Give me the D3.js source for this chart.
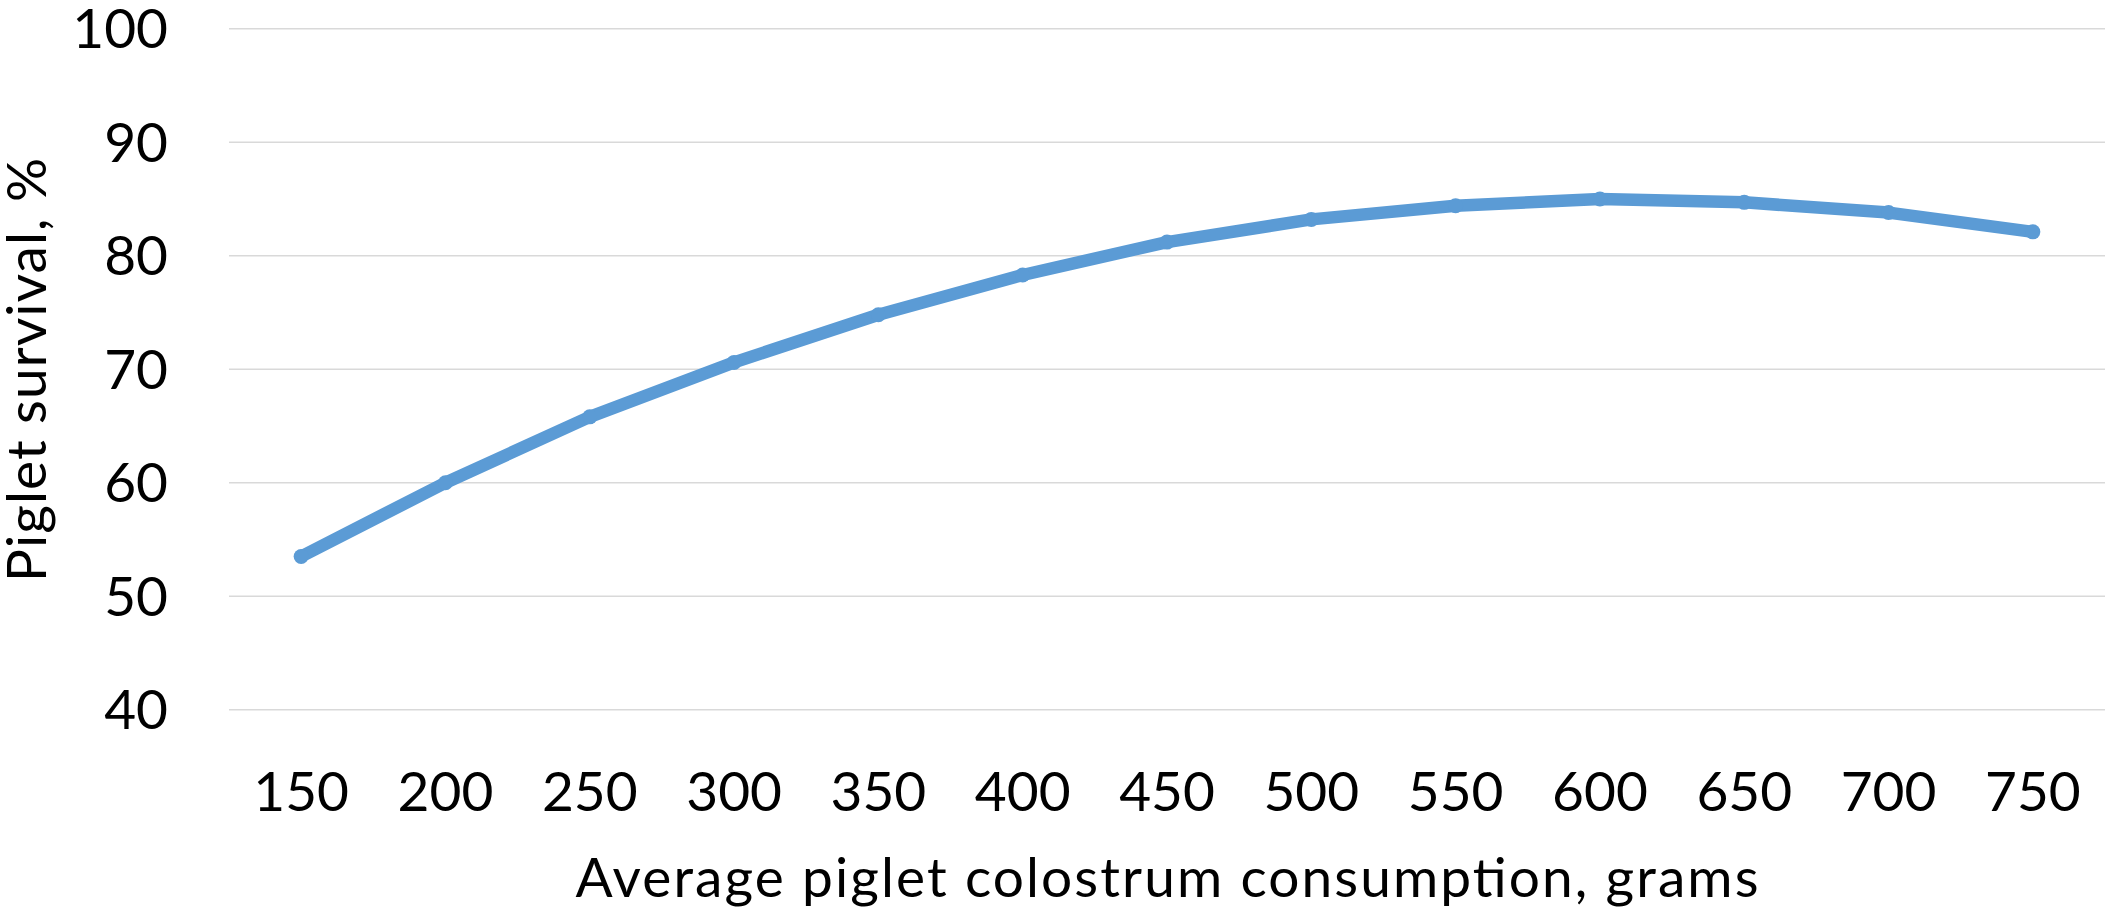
<!DOCTYPE html>
<html>
<head>
<meta charset="utf-8">
<script src="https://cdn.jsdelivr.net/npm/d3@7"></script>
<style>
  html, body { margin: 0; padding: 0; background: #fff; }
  svg { display: block; }
  text { font-family: Lato, "Open Sans", sans-serif; fill: #000; }
</style>
</head>
<body>
<svg id="chart" width="2108" height="910"></svg>
<script>
// Colostrum intake categories (grams) and predicted piglet survival (%)
const consumption = ["150", "200", "250", "300", "350", "400", "450", "500", "550", "600", "650", "700", "750"];
const survival = [53.5, 60.0, 65.8, 70.6, 74.8, 78.3, 81.2, 83.2, 84.4, 85.0, 84.7, 83.8, 82.1];
const yTicks = [40, 50, 60, 70, 80, 90, 100];

const xTitle = "Average piglet colostrum consumption, grams";
const yTitle = "Piglet survival, %";

const svg = d3.select("#chart");
const plot = { left: 229, right: 2105, top: 28.7, bottom: 709.7 };

const x = d3.scaleBand()
  .domain(consumption)
  .range([plot.left, plot.right]);

const y = d3.scaleLinear()
  .domain([40, 100])
  .range([plot.bottom, plot.top]);

const fontSize = 55;

// Horizontal gridlines
svg.append("g")
  .selectAll("line")
  .data(yTicks)
  .join("line")
  .attr("x1", plot.left)
  .attr("x2", plot.right)
  .attr("y1", d => y(d))
  .attr("y2", d => y(d))
  .attr("stroke", "#D9D9D9")
  .attr("stroke-width", 1.5);

// Y axis labels
const yAxis = d3.axisLeft(y).tickValues(yTicks).tickSize(0).tickPadding(61);
svg.append("g")
  .attr("transform", `translate(${plot.left},0)`)
  .call(yAxis)
  .call(g => g.select(".domain").remove())
  .call(g => g.selectAll("text")
    .attr("font-family", "Lato, 'Open Sans', sans-serif")
    .attr("font-size", fontSize)
    .attr("fill", "#000")
    .attr("dy", "0.35em"));

// X axis labels
const xAxis = d3.axisBottom(x).tickSize(0).tickPadding(0);
svg.append("g")
  .attr("transform", `translate(0,${plot.bottom})`)
  .call(xAxis)
  .call(g => g.select(".domain").remove())
  .call(g => g.selectAll("text")
    .attr("font-family", "Lato, 'Open Sans', sans-serif")
    .attr("font-size", fontSize)
    .attr("fill", "#000")
    .attr("y", 101)
    .attr("dy", 0));

// Survival curve
const cx = d => x(d) + x.bandwidth() / 2;
const pts = consumption.map((c, i) => [cx(c), y(survival[i])]);

svg.append("path")
  .attr("d", d3.line()(pts))
  .attr("fill", "none")
  .attr("stroke", "#5B9BD5")
  .attr("stroke-width", 12.5)
  .attr("stroke-linejoin", "round")
  .attr("stroke-linecap", "round");

svg.append("g")
  .selectAll("circle")
  .data(pts)
  .join("circle")
  .attr("cx", d => d[0])
  .attr("cy", d => d[1])
  .attr("r", 7.5)
  .attr("fill", "#5B9BD5");

// Axis titles
svg.append("text")
  .attr("x", (plot.left + plot.right) / 2)
  .attr("y", 896.7)
  .attr("text-anchor", "middle")
  .attr("font-size", fontSize)
  .attr("textLength", 1183)
  .attr("lengthAdjust", "spacing")
  .text(xTitle);

svg.append("text")
  .attr("transform", `translate(46,370) rotate(-90)`)
  .attr("text-anchor", "middle")
  .attr("font-size", fontSize)
  .attr("textLength", 424)
  .attr("lengthAdjust", "spacing")
  .text(yTitle);
</script>
</body>
</html>
